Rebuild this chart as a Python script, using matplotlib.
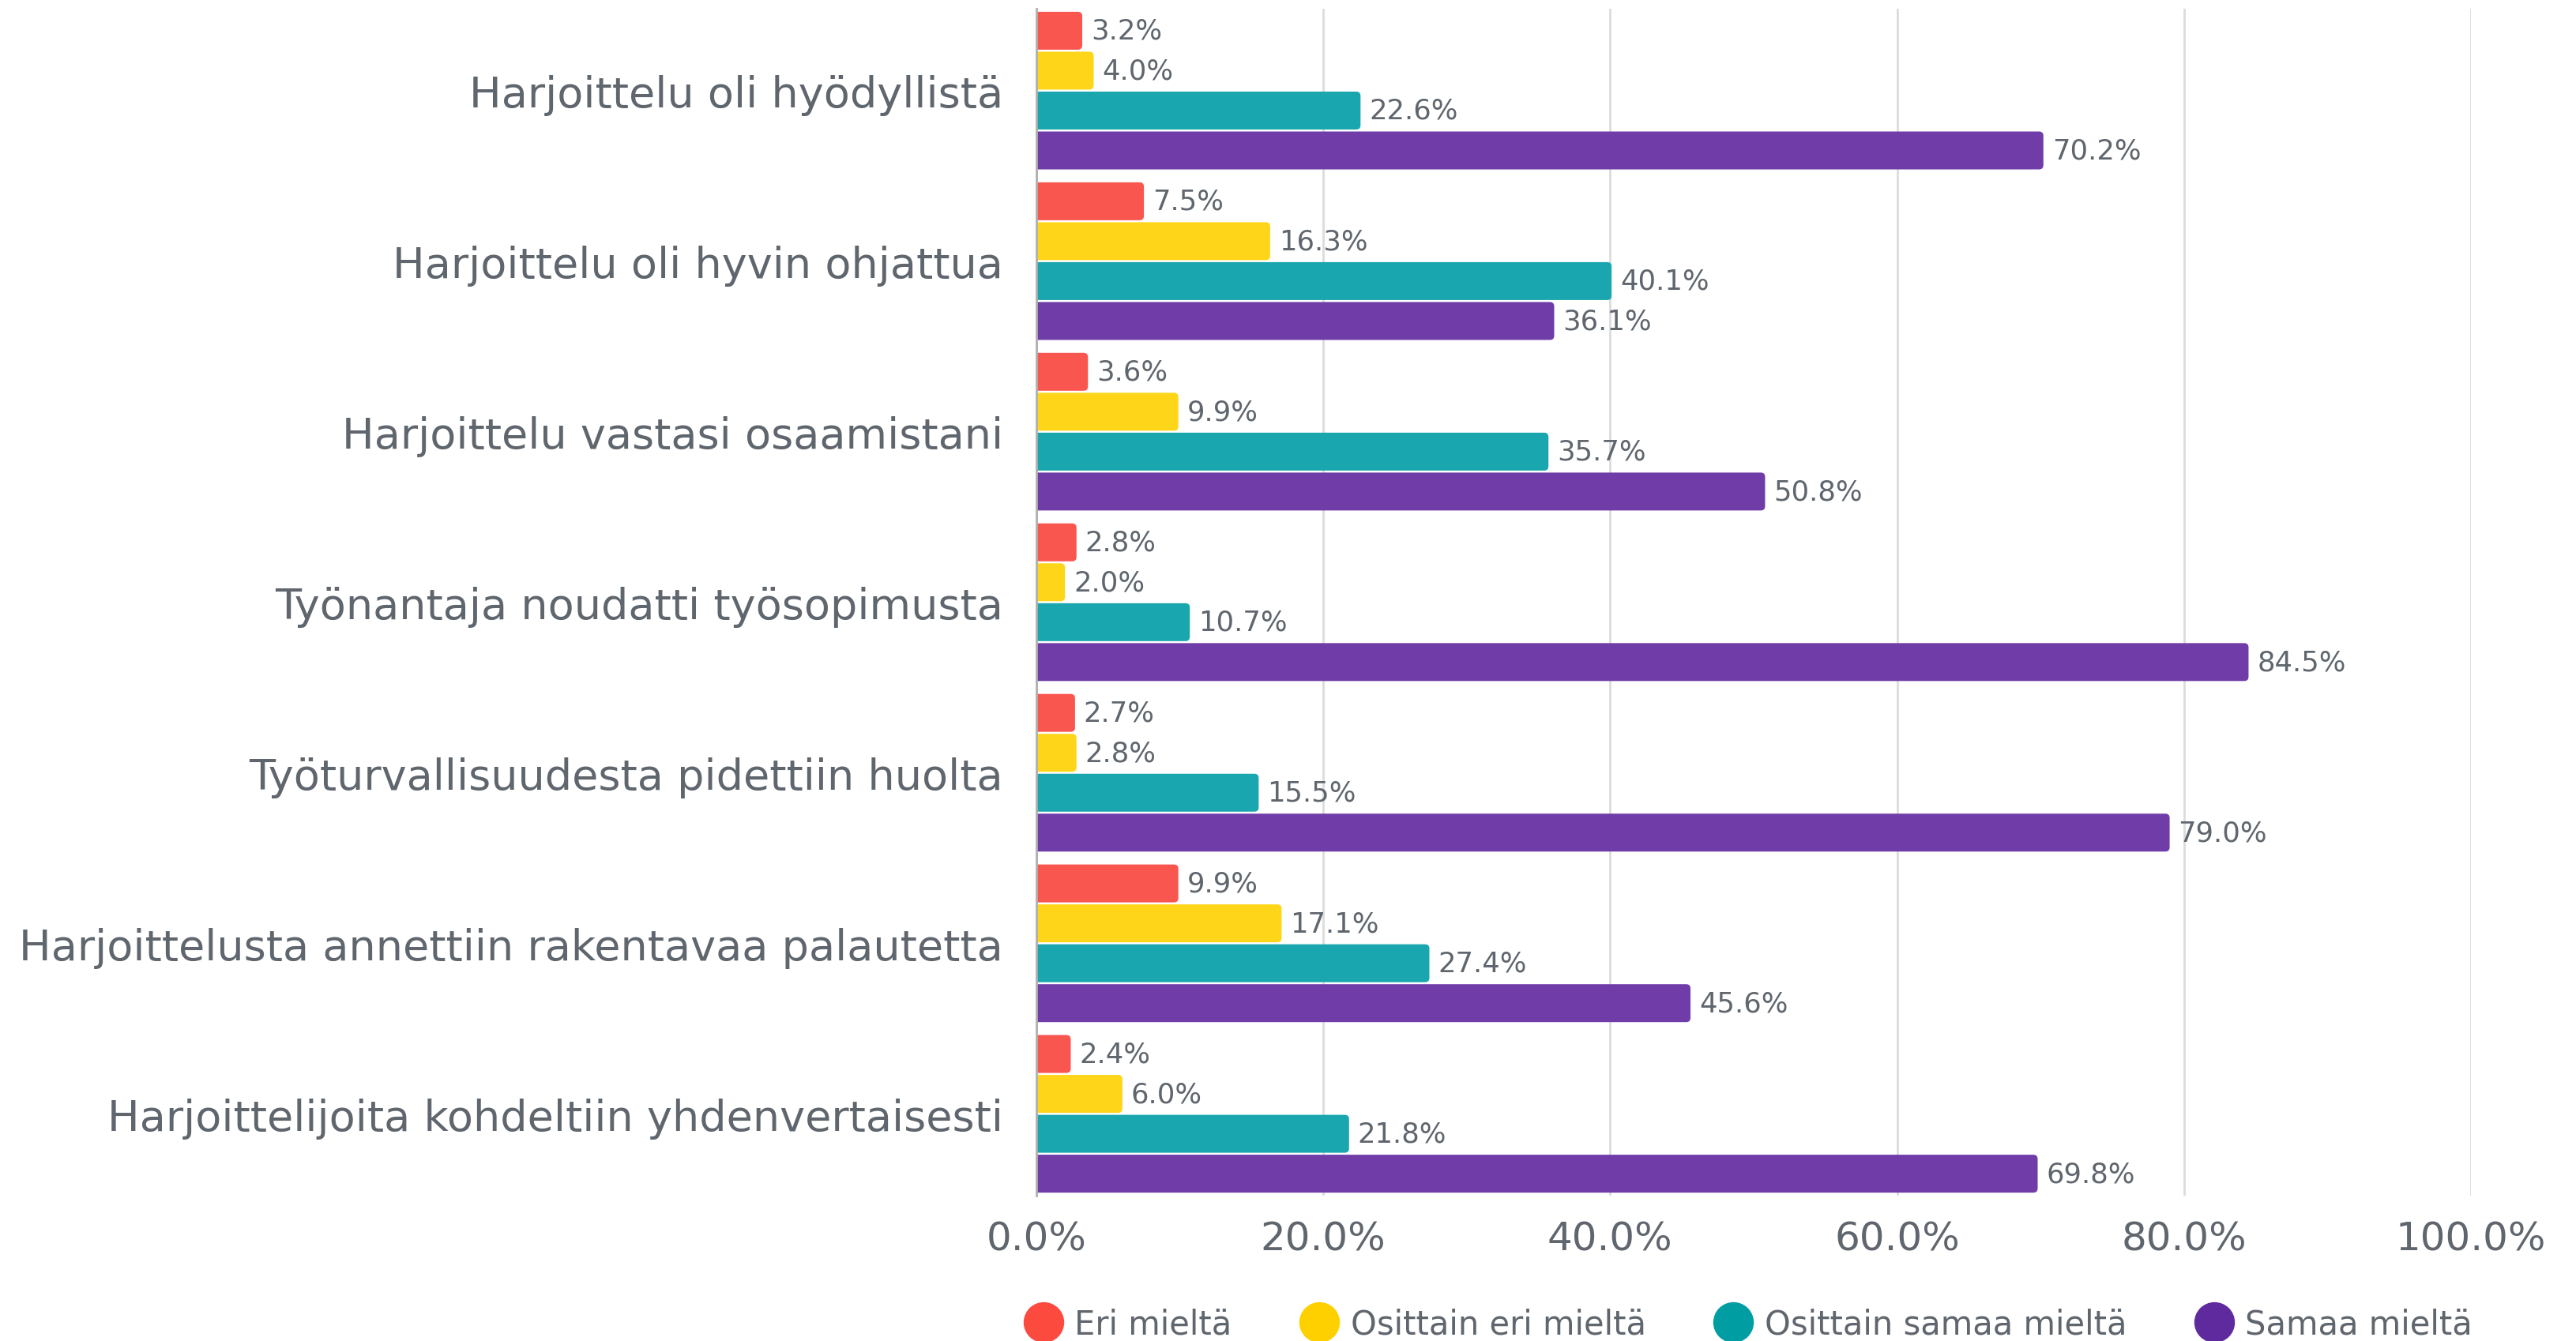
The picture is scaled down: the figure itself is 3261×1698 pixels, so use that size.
import matplotlib

matplotlib.use("Agg")
import matplotlib.pyplot as plt
import numpy as np
from matplotlib.lines import Line2D
from matplotlib.patches import FancyBboxPatch

plt.rcParams["font.family"] = ["DejaVu Sans"]

# data (percent)
statements = [
    "Harjoittelu oli hyödyllistä",
    "Harjoittelu oli hyvin ohjattua",
    "Harjoittelu vastasi osaamistani",
    "Työnantaja noudatti työsopimusta",
    "Työturvallisuudesta pidettiin huolta",
    "Harjoittelusta annettiin rakentavaa palautetta",
    "Harjoittelijoita kohdeltiin yhdenvertaisesti",
]
series_names = ["Eri mieltä", "Osittain eri mieltä", "Osittain samaa mieltä", "Samaa mieltä"]
eri = [3.2, 7.5, 3.6, 2.8, 2.7, 9.9, 2.4]
osittain_eri = [4.0, 16.3, 9.9, 2.0, 2.8, 17.1, 6.0]
osittain_samaa = [22.6, 40.1, 35.7, 10.7, 15.5, 27.4, 21.8]
samaa = [70.2, 36.1, 50.8, 84.5, 79.0, 45.6, 69.8]
xticks = [0, 20, 40, 60, 80, 100]

bar_colors = ["#fa5650", "#fed518", "#1aa6ae", "#6f3ca8"]
dot_colors = ["#fc4a3f", "#ffd000", "#009ea3", "#5f2a9e"]
TEXT = "#5f666d"

fig = plt.figure(figsize=(32.61, 16.99), dpi=100)
ax = fig.add_axes([0.4023, 0.1083, 0.9592 - 0.4023, 0.9929 - 0.1083])
ax.set_xlim(0, 100)
ax.set_ylim(6.48, -0.48)

# px per data unit, used to keep the rounded corners circular
fig.canvas.draw()
bb = ax.get_window_extent()
aspect = (bb.width / 100) / (bb.height / 6.96)

y = np.arange(len(statements))
h = 0.234
for i, vals in enumerate([eri, osittain_eri, osittain_samaa, samaa]):
    pos = y + (i - 1.5) * h
    bars = ax.barh(pos, vals, height=h * 0.95, color=bar_colors[i], zorder=3)
    for b in bars:
        b.set_visible(False)
        x0, y0, w, hh = b.get_x(), b.get_y(), b.get_width(), b.get_height()
        # start left of 0 so only the right corners show rounded
        ax.add_patch(FancyBboxPatch((x0 - 1, y0), w + 1, hh,
                                    boxstyle="round,pad=0,rounding_size=0.3",
                                    mutation_aspect=aspect, linewidth=0,
                                    facecolor=bar_colors[i], zorder=3))
    for p, v in zip(pos, vals):
        ax.text(v + 0.6, p, f"{v:.1f}%", va="center", ha="left",
                fontsize=25.5, color=TEXT, zorder=4)

ax.set_xticks(xticks)
ax.set_xticklabels([f"{t:.1f}%" for t in xticks], fontsize=36, color=TEXT)
ax.set_yticks(y)
ax.set_yticklabels(statements, fontsize=39, color=TEXT)
ax.tick_params(axis="x", length=0, pad=22)
ax.tick_params(axis="y", length=0, pad=30)
ax.grid(axis="x", color="#dcdcdc", linewidth=2, zorder=0)
for s in ["top", "right", "bottom"]:
    ax.spines[s].set_visible(False)
ax.spines["left"].set_color("#b0b0b0")
ax.spines["left"].set_linewidth(2)
ax.spines["left"].set_zorder(5)

handles = [Line2D([], [], marker="o", linestyle="none", markersize=36,
                  markerfacecolor=c, markeredgecolor=c) for c in dot_colors]
leg = fig.legend(handles, series_names, loc="center left",
                 bbox_to_anchor=(1300 / 3261, 21 / 1699), ncol=4, frameon=False,
                 fontsize=30, handletextpad=0.45, columnspacing=2.15,
                 handlelength=1.0, borderaxespad=0, borderpad=0)
for t in leg.get_texts():
    t.set_color(TEXT)

fig.savefig("out.png", dpi=100)
